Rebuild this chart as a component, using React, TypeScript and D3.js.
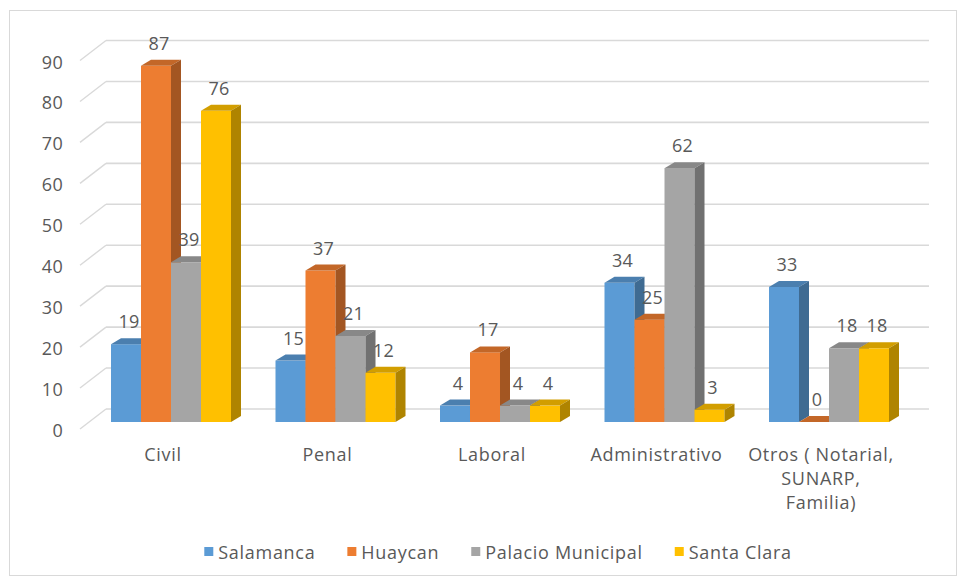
import React, { useEffect, useRef } from "react";
import * as d3 from "d3";

const categories = ["Civil", "Penal", "Laboral", "Administrativo", "Otros ( Notarial, SUNARP, Familia)"];
const categoryLines = [["Civil"], ["Penal"], ["Laboral"], ["Administrativo"], ["Otros ( Notarial,", "SUNARP,", "Familia)"]];
const seriesNames = ["Salamanca", "Huaycan", "Palacio Municipal", "Santa Clara"];
const salamanca = [19, 15, 4, 34, 33];
const huaycan = [87, 37, 17, 25, 0];
const palacio = [39, 21, 4, 62, 18];
const santaClara = [76, 12, 4, 3, 18];
const seriesColors = ["#5B9BD5", "#ED7D31", "#A5A5A5", "#FFC000"];
const yTicks = [0, 10, 20, 30, 40, 50, 60, 70, 80, 90];

const W = 964;
const H = 580;
const FONT = "'Open Sans', sans-serif";
const TXT = "#595959";
const FS = 18;
const LS = 0.7;

export default function App() {
  const ref = useRef<SVGSVGElement>(null);
  useEffect(() => {
    const svg = d3.select(ref.current);
    svg.selectAll("*").remove();
    const values = [salamanca, huaycan, palacio, santaClara];

    const txt = (sel: any) =>
      sel.attr("font-family", FONT).attr("font-size", FS).attr("letter-spacing", LS).attr("fill", TXT);

    // frame
    svg.append("rect").attr("x", 9.5).attr("y", 10.5).attr("width", 947).attr("height", 565)
      .attr("fill", "#fff").attr("stroke", "#d9d9d9").attr("stroke-width", 1);

    // back wall scale
    const yBack = d3.scaleLinear().domain([0, 90]).range([409, 40.5]);
    const wallL = 106, wallR = 929, depthX = 26, depthY = 20;
    const barDY = 13; // bars front plane offset from back wall
    const yFront = (v: number) => yBack(v) + barDY;

    const grid = svg.append("g");
    yTicks.forEach((t) => {
      const y = yBack(t);
      grid.append("line").attr("x1", wallL).attr("x2", wallR).attr("y1", y).attr("y2", y)
        .attr("stroke", "#d9d9d9").attr("stroke-width", 1.6);
      grid.append("line").attr("x1", wallL - depthX).attr("y1", y + depthY).attr("x2", wallL).attr("y2", y)
        .attr("stroke", "#d9d9d9").attr("stroke-width", 1.4);
      txt(svg.append("text").attr("x", 63).attr("y", y + depthY + 1).attr("text-anchor", "end")
        .attr("dominant-baseline", "central")).attr("letter-spacing", 0.3).text(String(t));
    });

    const x0 = d3.scaleBand<string>().domain(categories).range([88.75, 911.25])
      .paddingInner(0.2705).paddingOuter(0.13525);
    const x1 = d3.scaleBand<string>().domain(seriesNames).range([0, x0.bandwidth()]);
    const bw = x1.bandwidth();
    const dx = 10, dy = 6;

    const bars = svg.append("g");
    const labels: { x: number; y: number; v: number }[] = [];
    categories.forEach((c, ci) => {
      seriesNames.forEach((s, si) => {
        const v = values[si][ci];
        const x = (x0(c) as number) + (x1(s) as number);
        const top = yFront(v);
        const bot = yFront(0);
        const base = d3.color(seriesColors[si]) as d3.RGBColor;
        const topC = base.darker(0.55).formatHex();
        const sideC = base.darker(1.05).formatHex();
        const g = bars.append("g");
        g.append("rect").attr("x", x).attr("y", top).attr("width", bw).attr("height", Math.max(0, bot - top))
          .attr("fill", seriesColors[si]);
        g.append("path").attr("d", `M${x},${top}L${x + dx},${top - dy}L${x + bw + dx},${top - dy}L${x + bw},${top}Z`)
          .attr("fill", topC);
        g.append("path").attr("d", `M${x + bw},${top}L${x + bw + dx},${top - dy}L${x + bw + dx},${bot - dy}L${x + bw},${bot}Z`)
          .attr("fill", sideC);
        labels.push({ x: x + bw / 2 + 3, y: top - 16, v });
      });
    });

    labels.forEach((l) => {
      txt(svg.append("text").attr("x", l.x).attr("y", l.y).attr("text-anchor", "middle"))
        .attr("letter-spacing", 0.3).text(String(l.v));
    });

    // category labels
    categories.forEach((c, ci) => {
      const cx = (x0(c) as number) + x0.bandwidth() / 2 - 8;
      const t = txt(svg.append("text").attr("text-anchor", "middle"));
      categoryLines[ci].forEach((line, li) => {
        t.append("tspan").attr("x", cx).attr("y", 461 + li * 24).text(line);
      });
    });

    // legend
    const lg = svg.append("g");
    let cur = 0;
    const items: { g: any; w: number }[] = [];
    seriesNames.forEach((s, si) => {
      const g = lg.append("g");
      g.append("rect").attr("x", 0).attr("y", -5).attr("width", 9).attr("height", 9).attr("fill", seriesColors[si]);
      const t = txt(g.append("text").attr("x", 14).attr("y", 0).attr("dominant-baseline", "central")).text(s);
      const w = 14 + (t.node() as SVGTextElement).getComputedTextLength();
      items.push({ g, w });
    });
    const gap = 32;
    const total = d3.sum(items, (d) => d.w) + gap * (items.length - 1);
    cur = (200 + 796) / 2 - total / 2;
    items.forEach((it) => {
      it.g.attr("transform", `translate(${cur},552)`);
      cur += it.w + gap;
    });
  }, []);

  return (
    <svg ref={ref} width={W} height={H} style={{ position: "absolute", left: 0, top: 0, background: "#fff" }} />
  );
}
